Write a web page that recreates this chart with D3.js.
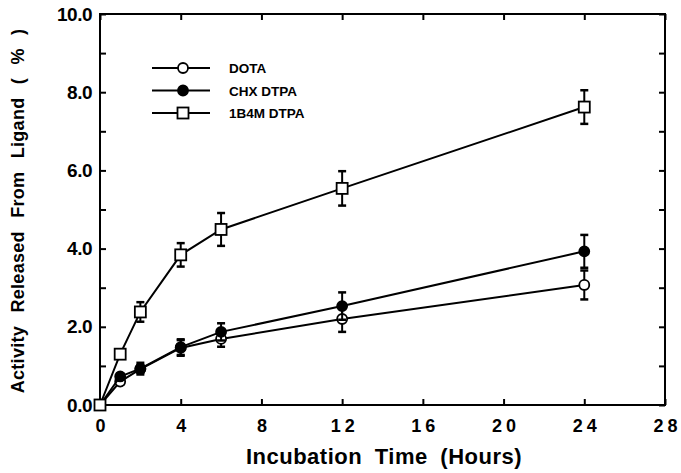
<!DOCTYPE html>
<html>
<head>
<meta charset="utf-8">
<script src="https://cdnjs.cloudflare.com/ajax/libs/d3/7.8.5/d3.min.js"></script>
<style>
  body { margin: 0; background: #fff; }
  text { font-family: 'Liberation Sans', Arial, sans-serif; font-weight: bold; fill: #000; }
</style>
</head>
<body>
<div id="chart"></div>
<script>
var hours = [0, 1, 2, 4, 6, 12, 24];

var dota = [0, 0.6, 0.92, 1.46, 1.69, 2.2, 3.07];
var dotaErr = [0, 0.08, 0.1, 0.2, 0.2, 0.33, 0.37];

var chx = [0, 0.73, 0.93, 1.48, 1.87, 2.53, 3.93];
var chxErr = [0, 0.08, 0.15, 0.2, 0.22, 0.35, 0.42];

var b4m = [0, 1.3, 2.38, 3.84, 4.49, 5.54, 7.62];
var b4mErr = [0, 0.1, 0.25, 0.3, 0.42, 0.44, 0.43];

var xTicks = [0, 4, 8, 12, 16, 20, 24, 28];
var yTicks = [0, 2, 4, 6, 8, 10];
var yMinor = [1, 3, 5, 7, 9];

var series = [
  { name: 'DOTA', values: dota, err: dotaErr, marker: 'circle', fill: '#fff' },
  { name: 'CHX DTPA', values: chx, err: chxErr, marker: 'circle', fill: '#000' },
  { name: '1B4M DTPA', values: b4m, err: b4mErr, marker: 'square', fill: '#fff' }
];

var settings = {
  width: 681,
  height: 473,
  left: 100,
  right: 665,
  top: 14,
  bottom: 405,
  tick: 6
};

var svg = d3.select('#chart').append('svg')
  .attr('width', settings.width)
  .attr('height', settings.height);

var x = d3.scaleLinear().domain([0, 28]).range([settings.left, settings.right]);
var y = d3.scaleLinear().domain([0, 10]).range([settings.bottom, settings.top]);

// frame
svg.append('rect')
  .attr('x', settings.left)
  .attr('y', settings.top)
  .attr('width', settings.right - settings.left)
  .attr('height', settings.bottom - settings.top)
  .style('fill', 'none')
  .style('stroke', '#000')
  .style('stroke-width', 2);

// axes, ticks pointing inward
var xBottom = svg.append('g')
  .attr('transform', 'translate(0,' + settings.bottom + ')')
  .call(d3.axisBottom(x).tickValues(xTicks).tickSize(-settings.tick).tickPadding(14).tickFormat(d3.format('d')));

var xTop = svg.append('g')
  .attr('transform', 'translate(0,' + settings.top + ')')
  .call(d3.axisTop(x).tickValues(xTicks).tickSize(-settings.tick).tickFormat(''));

var yLeft = svg.append('g')
  .attr('transform', 'translate(' + settings.left + ',0)')
  .call(d3.axisLeft(y).tickValues(yTicks.concat(yMinor)).tickSize(-settings.tick).tickPadding(8)
    .tickFormat(function(d) { return d % 2 === 0 ? d3.format('.1f')(d) : ''; }));

var yRight = svg.append('g')
  .attr('transform', 'translate(' + settings.right + ',0)')
  .call(d3.axisRight(y).tickValues(yTicks.concat(yMinor)).tickSize(-settings.tick).tickFormat(''));

[xBottom, xTop, yLeft, yRight].forEach(function(g) {
  g.select('.domain').remove();
  g.selectAll('.tick line').style('stroke', '#000').style('stroke-width', 2);
});

xBottom.selectAll('.tick text')
  .style('font-size', '18px')
  .style('letter-spacing', '4px')
  .attr('dx', '2px');

yLeft.selectAll('.tick text')
  .style('font-size', '19px')
  .style('letter-spacing', '-0.5px');

// axis titles
svg.append('text')
  .attr('x', 384)
  .attr('y', 464)
  .style('text-anchor', 'middle')
  .style('font-size', '22px')
  .style('letter-spacing', '0.5px')
  .style('word-spacing', '6px')
  .text('Incubation Time (Hours)');

svg.append('text')
  .attr('transform', 'translate(24,' + 211 + ') rotate(-90)')
  .style('text-anchor', 'middle')
  .style('font-size', '18px')
  .style('letter-spacing', '0.3px')
  .style('word-spacing', '8px')
  .text('Activity Released From Ligand ( % )');

var line = d3.line()
  .x(function(d) { return x(d[0]); })
  .y(function(d) { return y(d[1]); });

function drawMarker(g, s, cx, cy) {
  if (s.marker === 'circle') {
    g.append('circle')
      .attr('cx', cx)
      .attr('cy', cy)
      .attr('r', 5)
      .style('fill', s.fill)
      .style('stroke', '#000')
      .style('stroke-width', 1.8);
  } else {
    g.append('rect')
      .attr('x', cx - 5.5)
      .attr('y', cy - 5.5)
      .attr('width', 11)
      .attr('height', 11)
      .style('fill', s.fill)
      .style('stroke', '#000')
      .style('stroke-width', 1.8);
  }
}

series.forEach(function(s) {
  var pts = hours.map(function(h, i) { return [h, s.values[i]]; });
  var g = svg.append('g').attr('class', 'series');

  g.append('path')
    .datum(pts)
    .attr('d', line)
    .style('fill', 'none')
    .style('stroke', '#000')
    .style('stroke-width', 2);

  // error bars
  hours.forEach(function(h, i) {
    if (s.err[i] <= 0) return;
    var cx = x(h);
    var hi = y(s.values[i] + s.err[i]);
    var lo = y(s.values[i] - s.err[i]);
    g.append('line')
      .attr('x1', cx).attr('x2', cx)
      .attr('y1', hi).attr('y2', lo)
      .style('stroke', '#000').style('stroke-width', 2);
    [hi, lo].forEach(function(yy) {
      g.append('line')
        .attr('x1', cx - 4).attr('x2', cx + 4)
        .attr('y1', yy).attr('y2', yy)
        .style('stroke', '#000').style('stroke-width', 2.5);
    });
  });

  hours.forEach(function(h, i) {
    drawMarker(g, s, x(h), y(s.values[i]));
  });
});

// legend
var legend = svg.append('g').attr('class', 'legend');
series.forEach(function(s, i) {
  var ly = 68 + i * 22.5;
  legend.append('line')
    .attr('x1', 152).attr('x2', 210)
    .attr('y1', ly).attr('y2', ly)
    .style('stroke', '#000').style('stroke-width', 2);
  drawMarker(legend, s, 183, ly);
  legend.append('text')
    .attr('x', 229)
    .attr('y', ly + 5)
    .style('font-size', '13.5px')
    .text(s.name);
});
</script>
</body>
</html>
